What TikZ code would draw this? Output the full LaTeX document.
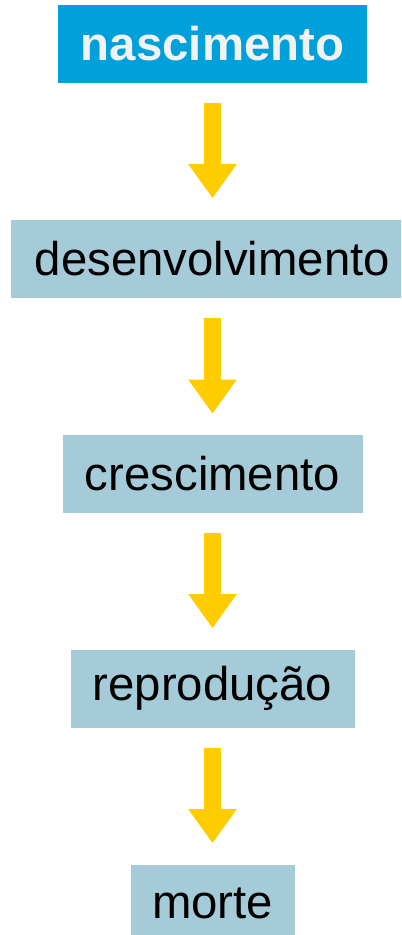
\documentclass[tikz,border=0pt]{standalone}
\usepackage{fontspec}
\setmainfont{Liberation Sans}
\usetikzlibrary{arrows.meta}

\definecolor{azulforte}{RGB}{0,161,218}
\definecolor{azulclaro}{RGB}{165,202,216}
\definecolor{amarelo}{RGB}{255,204,0}
\definecolor{quasebranco}{RGB}{242,242,242}

\tikzset{
  etapa/.style={fill=azulclaro, inner sep=0pt, minimum height=58.5pt, text=black,
    font=\fontsize{35.5}{40}\selectfont},
  inicio/.style={etapa, fill=azulforte, text=quasebranco,
    font=\fontsize{35.5}{40}\selectfont\bfseries},
  seta/.style={draw=amarelo, line width=12.75pt, shorten <=15pt, shorten >=15.75pt,
    -{Triangle[length=25.5pt 0, width=34.5pt 0]}}
}

\begin{document}
\begin{tikzpicture}[x=0.75pt,y=0.75pt,yscale=-1,xscale=1]
	%set diagram size: 401 x 935
	\clip (0,0) rectangle (401,935);
	
	% Text Node
	\node [inicio, minimum width=231.75pt] (nasc) at (212.5,44) {nascimento};
	% Text Node
	\node [etapa, minimum width=302.25pt] (desen) at (212.5,258.5) {desenvolvimento};
	% Text Node
	\node [etapa, minimum width=225pt] (cresc) at (212.5,474) {crescimento};
	% Text Node
	\node [etapa, minimum width=213pt] (repro) at (212.5,688.5) {reprodução};
	% Text Node
	\node [etapa, minimum width=123pt] (morte) at (212.5,903.5) {morte};
	
	% Connection
	\draw [seta] (nasc.south) -- (desen.north);
	% Connection
	\draw [seta] (desen.south) -- (cresc.north);
	% Connection
	\draw [seta] (cresc.south) -- (repro.north);
	% Connection
	\draw [seta] (repro.south) -- (morte.north);
\end{tikzpicture}
\end{document}
